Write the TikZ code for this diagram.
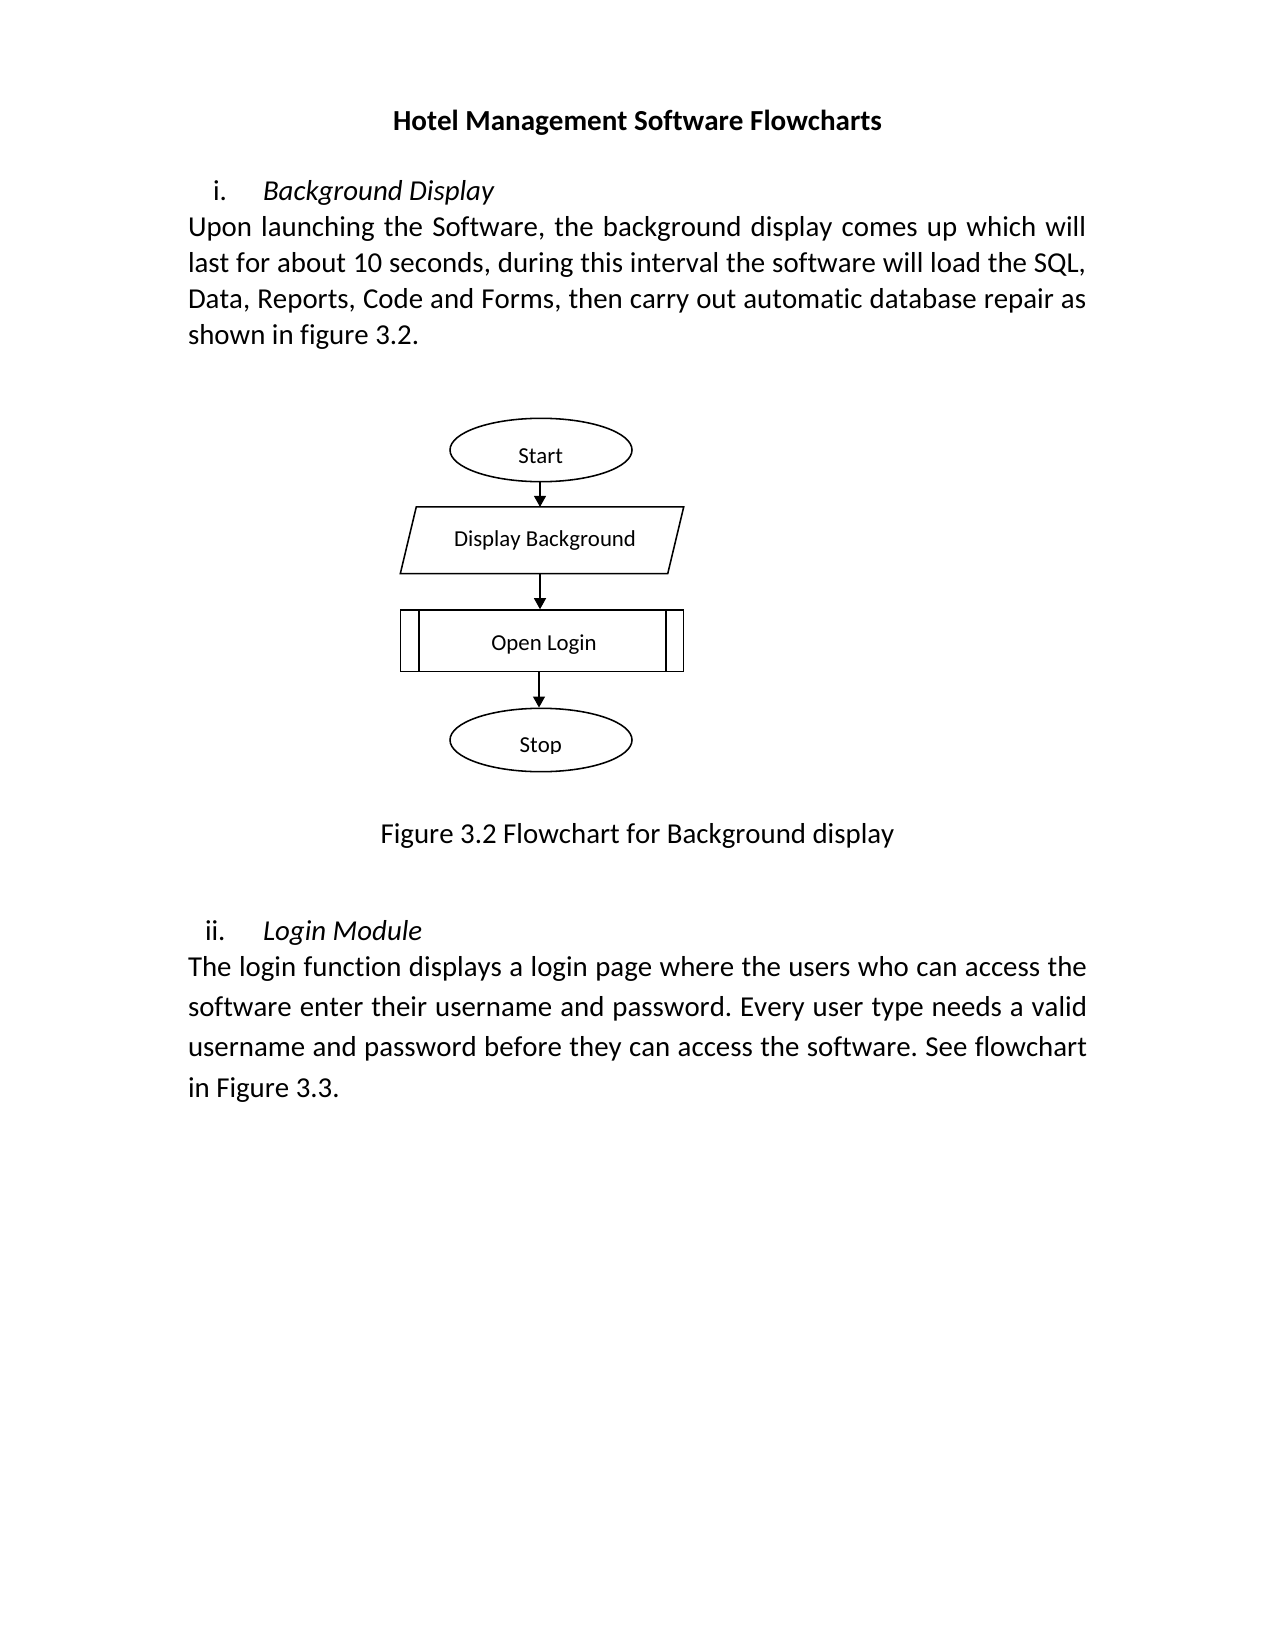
\documentclass[tikz,border=0pt]{standalone}
\usepackage{fontspec}
\setmainfont{Carlito}[Ligatures=NoCommon,Kerning=Off]
\usetikzlibrary{shapes.geometric,arrows.meta,calc}
\frenchspacing
\begin{document}
\frenchspacing
\begin{tikzpicture}[x=0.4818pt,y=-0.4818pt,
  body/.style={anchor=base west,inner sep=0,outer sep=0,font=\fontsize{13.9}{16}\selectfont},
  bodyc/.style={anchor=base,inner sep=0,outer sep=0,font=\fontsize{13.9}{16}\selectfont},
  fctext/.style={anchor=base,inner sep=0,outer sep=0,font=\fontsize{11}{13}\selectfont},
  term/.style={ellipse,draw,line width=0.75pt,inner sep=0,minimum width={182*0.4818pt},minimum height={63.4*0.4818pt}},
  boxshape/.style={draw=none,inner sep=0,minimum width={282.6*0.4818pt}},
  arr/.style={line width=0.5pt,-{Triangle[width=5.8pt,length=5.3pt]}}
]
\fill[white] (0,0) rectangle (1275,1650);
\useasboundingbox (0,0) rectangle (1275,1650);

% title
\node[bodyc,font=\bfseries\fontsize{14}{16}\selectfont] (title) at (637.5,131) {Hotel Management Software Flowcharts};

% section i
\node[body] (n1) at (213,201) {i.};
\node[body] (h1) at (263,201) {\itshape Background Display};
\node[body] (p1a) at (188,237) {\makebox[432.7pt][s]{Upon launching the Software, the background display comes up which will}};
\node[body] (p1b) at (188,273) {\makebox[432.7pt][s]{last for about 10 seconds, during this interval the software will load the SQL,}};
\node[body] (p1c) at (188,309) {\makebox[432.7pt][s]{Data, Reports, Code and Forms, then carry out automatic database repair as}};
\node[body] (p1d) at (188,345) {shown in figure 3.2.};

% flowchart
\node[term] (start) at (541,450) {};
\node[fctext] (starttxt) at (540.7,464) {Start};

\node[boxshape,minimum height={66*0.4818pt}] (disp) at (542,540.3) {};
\draw[line width=0.75pt] ($(disp.north west)+(16,0)$) -- (disp.north east) -- ($(disp.south east)+(-16,0)$) -- (disp.south west) -- cycle;
\node[fctext] (disptxt) at (545,546) {Display Background};

\node[boxshape,draw,line width=0.75pt,minimum height={61.7*0.4818pt}] (login) at (542,640.85) {};
\draw[line width=0.75pt] ($(login.north west)+(19.3,0)$) -- ($(login.south west)+(19.3,0)$);
\draw[line width=0.75pt] ($(login.north east)+(-18.3,0)$) -- ($(login.south east)+(-18.3,0)$);
\node[fctext] (logintxt) at (544,650) {Open Login};

\node[term] (stop) at (541,740) {};
\begin{scope}
\clip (450,700) rectangle (632,753);
\node[fctext] (stoptxt) at (540.7,752.7) {Stop};
\end{scope}

\draw[arr] (start.south -| 540,0) -- (disp.north -| 540,0);
\draw[arr] (disp.south -| 540,0) -- (login.north -| 540,0);
\draw[arr] (login.south -| 539,0) -- (stop.north -| 539,0);

% caption
\node[bodyc] (cap) at (637.5,843) {Figure 3.2 Flowchart for Background display};

% section ii
\node[body] (n2) at (205,940) {ii.};
\node[body] (h2) at (263,940) {\itshape Login Module};
\node[body] (p2a) at (188,976) {\makebox[433.1pt][s]{The login function displays a login page where the users who can access the}};
\node[body] (p2b) at (188,1016.3) {\makebox[433.1pt][s]{software enter their username and password. Every user type needs a valid}};
\node[body] (p2c) at (188,1056.6) {\makebox[433.1pt][s]{username and password before they can access the software. See flowchart}};
\node[body] (p2d) at (188,1097) {in Figure 3.3.};
\end{tikzpicture}
\end{document}
